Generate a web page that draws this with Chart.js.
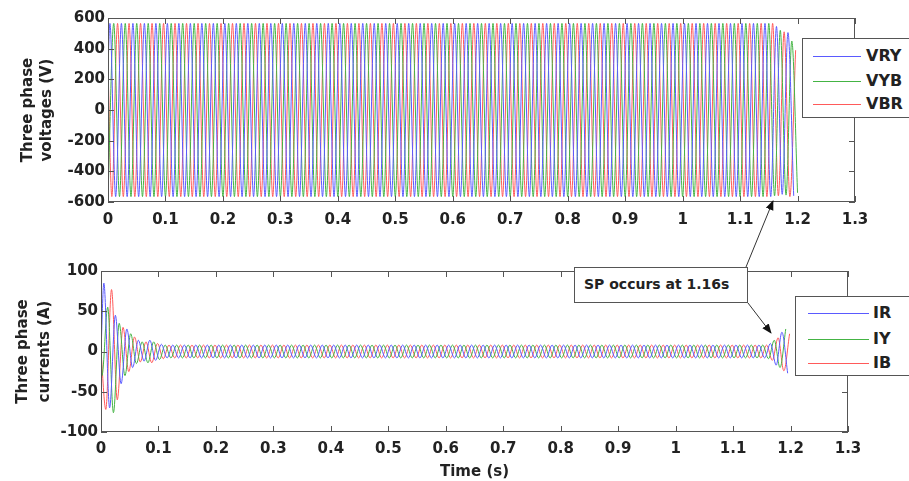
<!DOCTYPE html>
<html>
<head>
<meta charset="utf-8">
<script src="https://cdn.jsdelivr.net/npm/chart.js@4.4.1/dist/chart.umd.min.js"></script>
<style>
  html, body { margin:0; padding:0; background:#fff; width:909px; height:481px; overflow:hidden; font-family:"DejaVu Sans", sans-serif; }
  canvas { position:absolute; left:0; }
  #c1 { top:0; }
  #c2 { top:240px; }
  .legend { position:absolute; background:#fff; border:1px solid #555; width:130px; height:80px; box-sizing:border-box; }
  .entry { position:absolute; height:20px; line-height:20px; font-weight:bold; font-size:16px; color:#222; width:128px; }
  .entry .ln { position:absolute; top:10px; height:1px; }
  .entry .tx { position:absolute; top:0; white-space:nowrap; }
  #note { position:absolute; left:574px; top:267px; width:174px; height:36px; box-sizing:border-box; border:1px solid #555; background:#fff; font-weight:bold; font-size:14px; color:#222; line-height:32px; padding-left:9px; white-space:nowrap; }
  svg { position:absolute; left:0; top:0; }
</style>
</head>
<body>
<canvas id="c1" width="909" height="232"></canvas>
<canvas id="c2" width="909" height="241"></canvas>
<div id="leg1" class="legend" style="left:802px; top:38px;"></div>
<div id="leg2" class="legend" style="left:795px; top:296px;"></div>
<div id="note">SP occurs at 1.16s</div>
<svg width="909" height="481">
  <defs>
    <marker id="ah" markerWidth="10" markerHeight="10" refX="9" refY="5" orient="auto" markerUnits="userSpaceOnUse">
      <path d="M0,1 L10,5 L0,9 Z" fill="#111"/>
    </marker>
  </defs>
  <line x1="746" y1="267" x2="773" y2="201" stroke="#333" stroke-width="1" marker-end="url(#ah)"/>
  <line x1="748" y1="303" x2="771" y2="333" stroke="#333" stroke-width="1" marker-end="url(#ah)"/>
</svg>
<script>
// ---------------- DATA ----------------
const xTickLabels = ['0','0.1','0.2','0.3','0.4','0.5','0.6','0.7','0.8','0.9','1','1.1','1.2','1.3'];
const vTicks = [-600,-400,-200,0,200,400,600];
const iTicks = [-100,-50,0,50,100];

const voltageNames = ['VRY','VYB','VBR'];
const currentNames = ['IR','IY','IB'];

const halfPeriod = 0.01;               // 50 Hz -> peaks every 0.01 s
// time of first peak of each phase, sign of first peak, value at t = 0
const voltageLag   = [0.003333, 0, 0.006667];
const voltageSign  = [1, -1, -1];
const voltageStart = [282, null, 282];
const currentLag   = [0.005, 0.001667, 0.008333];
const currentSign  = [1, -1, -1];
const currentStart = [0, 0, 0];

// successive half-cycle peak magnitudes
const vryPeaks = [
565,565,565,565,565,565,565,565,565,565, 565,565,565,565,565,565,565,565,565,565,
565,565,565,565,565,565,565,565,565,565, 565,565,565,565,565,565,565,565,565,565,
565,565,565,565,565,565,565,565,565,565, 565,565,565,565,565,565,565,565,565,565,
565,565,565,565,565,565,565,565,565,565, 565,565,565,565,565,565,565,565,565,565,
565,565,565,565,565,565,565,565,565,565, 565,565,565,565,565,565,565,565,565,565,
565,565,565,565,565,565,565,565,565,565, 565,565,565,565,565,565,
545,550,505,560];
const vybPeaks = [
565,565,565,565,565,565,565,565,565,565, 565,565,565,565,565,565,565,565,565,565,
565,565,565,565,565,565,565,565,565,565, 565,565,565,565,565,565,565,565,565,565,
565,565,565,565,565,565,565,565,565,565, 565,565,565,565,565,565,565,565,565,565,
565,565,565,565,565,565,565,565,565,565, 565,565,565,565,565,565,565,565,565,565,
565,565,565,565,565,565,565,565,565,565, 565,565,565,565,565,565,565,565,565,565,
565,565,565,565,565,565,565,565,565,565, 565,565,565,565,565,565,
560,520,555,450,540];
const vbrPeaks = [
565,565,565,565,565,565,565,565,565,565, 565,565,565,565,565,565,565,565,565,565,
565,565,565,565,565,565,565,565,565,565, 565,565,565,565,565,565,565,565,565,565,
565,565,565,565,565,565,565,565,565,565, 565,565,565,565,565,565,565,565,565,565,
565,565,565,565,565,565,565,565,565,565, 565,565,565,565,565,565,565,565,565,565,
565,565,565,565,565,565,565,565,565,565, 565,565,565,565,565,565,565,565,565,565,
565,565,565,565,565,565,565,565,565,565, 565,565,565,565,565,565,
560,510,565,390];

const irPeaks = [
85,70,45,40,28,20,14,12,14,11,9,
8,8,8,8,8,8,8,8,8,8, 8,8,8,8,8,8,8,8,8,8, 8,8,8,8,8,8,8,8,8,8, 8,8,8,8,8,8,8,8,8,8,
8,8,8,8,8,8,8,8,8,8, 8,8,8,8,8,8,8,8,8,8, 8,8,8,8,8,8,8,8,8,8, 8,8,8,8,8,8,8,8,8,8,
8,8,8,8,8,8,8,8,8,8, 8,8,8,8,8,8,8,8,8,8, 8,8,8,8,8,
10,17,24,27];
const iyPeaks = [
30,55,76,35,30,22,15,12,14,12,10,
8,8,8,8,8,8,8,8,8,8, 8,8,8,8,8,8,8,8,8,8, 8,8,8,8,8,8,8,8,8,8, 8,8,8,8,8,8,8,8,8,8,
8,8,8,8,8,8,8,8,8,8, 8,8,8,8,8,8,8,8,8,8, 8,8,8,8,8,8,8,8,8,8, 8,8,8,8,8,8,8,8,8,8,
8,8,8,8,8,8,8,8,8,8, 8,8,8,8,8,8,8,8,8,8, 8,8,8,8,8,
9,14,20,28];
const ibPeaks = [
72,77,60,30,25,18,13,12,14,10,9,
8,8,8,8,8,8,8,8,8,8, 8,8,8,8,8,8,8,8,8,8, 8,8,8,8,8,8,8,8,8,8, 8,8,8,8,8,8,8,8,8,8,
8,8,8,8,8,8,8,8,8,8, 8,8,8,8,8,8,8,8,8,8, 8,8,8,8,8,8,8,8,8,8, 8,8,8,8,8,8,8,8,8,8,
8,8,8,8,8,8,8,8,8,8, 8,8,8,8,8,8,8,8,8,8, 8,8,8,8,8,
11,17,24,22];

// ---------------- STYLE ----------------
const colors = ['#5a5aff', '#44b444', '#ff5a5a'];
const FONT = '"DejaVu Sans", sans-serif';

function buildSeries(lag, peaks, sign, start) {
  const pts = [];
  if (start !== null) pts.push({x: 0, y: start});
  peaks.forEach((m, k) => pts.push({x: lag + k * halfPeriod, y: sign * (k % 2 ? -1 : 1) * m}));
  return pts;
}

const boxTicks = {
  id: 'boxTicks',
  afterDraw(chart) {
    const {ctx, chartArea: a, scales: {x, y}} = chart;
    ctx.save();
    ctx.strokeStyle = '#555';
    ctx.lineWidth = 1;
    ctx.strokeRect(a.left + 0.5, a.top + 0.5, a.right - a.left - 1, a.bottom - a.top - 1);
    ctx.beginPath();
    x.ticks.forEach(t => {
      const px = Math.round(x.getPixelForValue(t.value)) + 0.5;
      ctx.moveTo(px, a.bottom); ctx.lineTo(px, a.bottom - 6);
      ctx.moveTo(px, a.top); ctx.lineTo(px, a.top + 6);
    });
    y.ticks.forEach(t => {
      const py = Math.round(y.getPixelForValue(t.value)) + 0.5;
      ctx.moveTo(a.left, py); ctx.lineTo(a.left + 6, py);
      ctx.moveTo(a.right, py); ctx.lineTo(a.right - 6, py);
    });
    ctx.stroke();
    ctx.restore();
  }
};

function makeChart(id, datasets, cfg) {
  return new Chart(document.getElementById(id), {
    type: 'line',
    data: { datasets },
    plugins: [boxTicks],
    options: {
      responsive: false,
      animation: false,
      events: [],
      layout: { padding: cfg.padding },
      plugins: { legend: { display: false }, tooltip: { enabled: false } },
      elements: { point: { radius: 0 }, line: { borderWidth: 1, cubicInterpolationMode: 'monotone' } },
      scales: {
        x: {
          type: 'linear', min: 0, max: 1.3,
          afterFit: s => { s.height = cfg.xHeight; },
          afterBuildTicks: s => { s.ticks = xTickLabels.map(l => ({value: parseFloat(l)})); },
          ticks: { autoSkip: false, maxRotation: 0, padding: cfg.xPad, color: '#222',
                   font: { family: FONT, size: 15, weight: 'bold' },
                   callback: (v, i) => xTickLabels[i] },
          grid: { display: false, drawTicks: false }, border: { display: false },
          title: cfg.xTitle ? { display: true, text: cfg.xTitle, color: '#222', padding: {top: 0, bottom: 0},
                   font: { family: FONT, size: 15, weight: 'bold' } } : { display: false }
        },
        y: {
          type: 'linear', min: cfg.yTicks[0], max: cfg.yTicks[cfg.yTicks.length - 1],
          afterFit: s => { s.width = cfg.yWidth; },
          afterBuildTicks: s => { s.ticks = cfg.yTicks.map(v => ({value: v})); },
          ticks: { padding: 3, color: '#222', font: { family: FONT, size: 15, weight: 'bold' },
                   callback: v => String(v) },
          grid: { display: false, drawTicks: false }, border: { display: false },
          title: { display: true, text: cfg.yTitle, color: '#222', padding: {top: cfg.yTitlePad, bottom: 0},
                   font: { family: FONT, size: 15, weight: 'bold', lineHeight: cfg.yTitleLH } }
        }
      }
    }
  });
}

const vPeaks = [vryPeaks, vybPeaks, vbrPeaks];
const iPeaks = [irPeaks, iyPeaks, ibPeaks];

makeChart('c1', voltageNames.map((n, j) => ({
  label: n, borderColor: colors[j], data: buildSeries(voltageLag[j], vPeaks[j], voltageSign[j], voltageStart[j])
})), { padding: {left: 0, right: 54, top: 18, bottom: 0}, xHeight: 30, yWidth: 108, xPad: 9,
       yTicks: vTicks, yTitle: ['Three phase', 'voltages (V)'], yTitlePad: 18, yTitleLH: 1.3 });

makeChart('c2', currentNames.map((n, j) => ({
  label: n, borderColor: colors[j], data: buildSeries(currentLag[j], iPeaks[j], currentSign[j], currentStart[j])
})), { padding: {left: 0, right: 61, top: 31, bottom: 0}, xHeight: 49, yWidth: 101, xPad: 8,
       yTicks: iTicks, yTitle: ['Three phase', 'currents (A)'], xTitle: 'Time (s)', yTitlePad: 12, yTitleLH: 1.45 });

// HTML legends
function legend(id, names, tops, lineL, lineW, textL) {
  const box = document.getElementById(id);
  names.forEach((n, j) => {
    const e = document.createElement('div');
    e.className = 'entry';
    e.style.top = (tops[j] - 10) + 'px';
    e.style.left = '0px';
    e.innerHTML = '<div class="ln" style="left:' + lineL + 'px;width:' + lineW + 'px;background:' + colors[j] + '"></div>' +
                  '<div class="tx" style="left:' + textL + 'px">' + n + '</div>';
    box.appendChild(e);
  });
}
legend('leg1', voltageNames, [17, 42, 65], 10, 48, 63);
legend('leg2', currentNames, [16, 42, 66], 12, 61, 77);
</script>
</body>
</html>
